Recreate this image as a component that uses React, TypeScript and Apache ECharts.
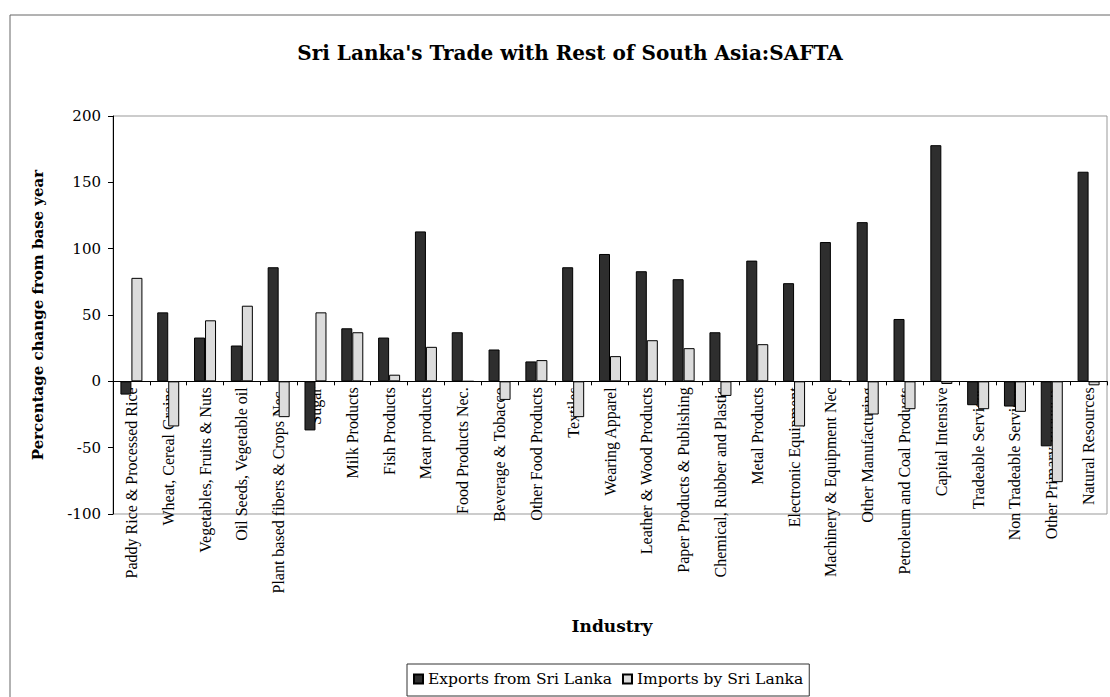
import React, { useEffect, useRef } from "react";
import * as echarts from "echarts";

const categories = [
  "Paddy Rice & Processed Rice",
  "Wheat, Cereal Grains",
  "Vegetables, Fruits & Nuts",
  "Oil Seeds, Vegetable oil",
  "Plant based fibers & Crops Nec.",
  "Sugar",
  "Milk Products",
  "Fish Products",
  "Meat products",
  "Food Products Nec.",
  "Beverage & Tobacco",
  "Other Food Products",
  "Textiles",
  "Wearing Apparel",
  "Leather & Wood Products",
  "Paper Products & Publishing",
  "Chemical, Rubber and Plastic",
  "Metal Products",
  "Electronic Equipment",
  "Machinery & Equipment Nec",
  "Other Manufacturing",
  "Petroleum and Coal Products",
  "Capital Intensive",
  "Tradeable Services",
  "Non Tradeable Services",
  "Other Primary Products",
  "Natural Resources",
];

const exportsFromSriLanka = [
  -10, 52, 33, 27, 86, -37, 40, 33, 113, 37, 24, 15, 86, 96, 83, 77, 37, 91, 74,
  105, 120, 47, 178, -18, -19, -49, 158,
];

const importsBySriLanka = [
  78, -34, 46, 57, -27, 52, 37, 5, 26, 0, -14, 16, -27, 19, 31, 25, -11, 28, -34,
  0.5, -25, -21, -2, -21, -23, -76, -3,
];

const yTicks = { min: -100, max: 200, interval: 50 };

const titleText = "Sri Lanka's Trade with Rest of South Asia:SAFTA";
const yName = "Percentage change from base year";
const xName = "Industry";
const seriesNames = ["Exports from Sri Lanka", "Imports by Sri Lanka"];

const SERIF = "'Liberation Serif', 'DejaVu Serif', serif";
const WIDE = "'DejaVu Serif', 'Liberation Serif', serif";

const GRID_TOP = 116;
const GRID_BOTTOM = 183;
const GRID_H = 697 - GRID_TOP - GRID_BOTTOM;
// distance of the zero line above the grid bottom
const ZERO_OFFSET = (GRID_H * (0 - yTicks.min)) / (yTicks.max - yTicks.min);

export default function App() {
  const ref = useRef<HTMLDivElement>(null);

  useEffect(() => {
    if (!ref.current) return;
    const chart = echarts.init(ref.current, null, { renderer: "svg" });
    chart.setOption({
      animation: false,
      backgroundColor: "#ffffff",
      textStyle: { fontFamily: SERIF, color: "#000" },
      grid: {
        left: 113,
        right: 3,
        top: GRID_TOP,
        bottom: GRID_BOTTOM,
        show: true,
        borderColor: "#999",
        borderWidth: 1,
        backgroundColor: "transparent",
      },
      graphic: [
        {
          type: "rect",
          shape: { x: 10, y: 15, width: 1120, height: 720 },
          style: { fill: "none", stroke: "#666", lineWidth: 1 },
          silent: true,
          z: -1,
        },
        {
          type: "text",
          x: 570,
          y: 53,
          style: {
            text: titleText,
            fontFamily: WIDE,
            fontSize: 20,
            fontWeight: "bold",
            fill: "#000",
            align: "center",
            verticalAlign: "middle",
          },
        },
        {
          type: "text",
          x: 612,
          y: 626,
          style: {
            text: xName,
            fontFamily: WIDE,
            fontSize: 17,
            fontWeight: "bold",
            fill: "#000",
            align: "center",
            verticalAlign: "middle",
          },
        },
      ],
      legend: {
        data: seriesNames,
        left: 407,
        top: 664,
        borderColor: "#333",
        borderWidth: 1,
        padding: [7, 6, 9, 6],
        itemGap: 10,
        itemWidth: 9,
        itemHeight: 9,
        icon: "rect",
        textStyle: { fontFamily: WIDE, fontSize: 15.5, color: "#000" },
      },
      xAxis: {
        type: "category",
        data: categories,
        position: "bottom",
        offset: -ZERO_OFFSET,
        axisLine: { onZero: false, lineStyle: { color: "#000", width: 1 } },
        axisTick: { show: true, interval: 0, length: 4, lineStyle: { color: "#000" } },
        axisLabel: {
          interval: 0,
          rotate: 90,
          fontFamily: SERIF,
          fontSize: 16,
          color: "#000",
          margin: 6,
        },
        splitLine: { show: false },
      },
      yAxis: {
        type: "value",
        min: yTicks.min,
        max: yTicks.max,
        interval: yTicks.interval,
        name: yName,
        nameLocation: "middle",
        nameGap: 68,
        nameTextStyle: { fontFamily: WIDE, fontSize: 15, fontWeight: "bold", color: "#000" },
        axisLine: { show: true, lineStyle: { color: "#000", width: 1 } },
        axisTick: { show: true, length: 5, lineStyle: { color: "#000" } },
        axisLabel: { fontFamily: WIDE, fontSize: 15, color: "#000", margin: 12 },
        splitLine: { show: false },
      },
      series: [
        {
          name: seriesNames[0],
          type: "bar",
          data: exportsFromSriLanka,
          barWidth: 11,
          barGap: "0%",
          itemStyle: { color: "#2e2e2e", borderColor: "#000", borderWidth: 1 },
        },
        {
          name: seriesNames[1],
          type: "bar",
          data: importsBySriLanka,
          barWidth: 11,
          barGap: "0%",
          itemStyle: { color: "#dcdcdc", borderColor: "#000", borderWidth: 1 },
        },
      ],
    });
    return () => chart.dispose();
  }, []);

  return (
    <div
      ref={ref}
      style={{ position: "absolute", left: 0, top: 0, width: 1110, height: 697 }}
    />
  );
}
